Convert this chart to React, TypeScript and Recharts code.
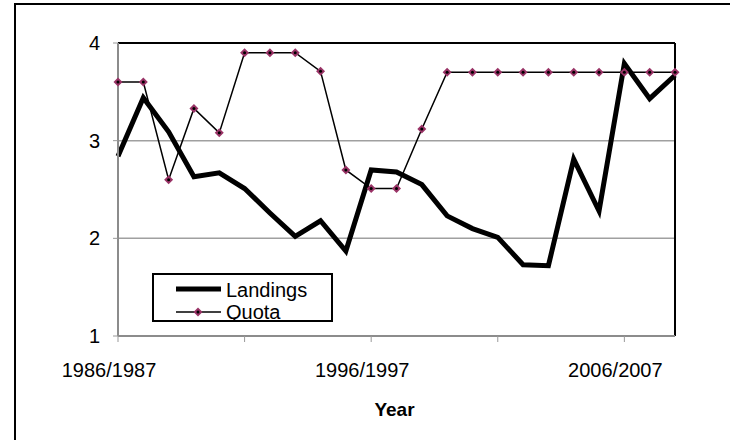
import React from 'react'
import {
  LineChart,
  Line,
  XAxis,
  YAxis,
  CartesianGrid,
  ReferenceLine,
  Legend,
} from 'recharts'

const seasons = [
  '1986/1987', '1987/1988', '1988/1989', '1989/1990', '1990/1991',
  '1991/1992', '1992/1993', '1993/1994', '1994/1995', '1995/1996',
  '1996/1997', '1997/1998', '1998/1999', '1999/2000', '2000/2001',
  '2001/2002', '2002/2003', '2003/2004', '2004/2005', '2005/2006',
  '2006/2007', '2007/2008', '2008/2009',
]

const landings = [
  2.84, 3.44, 3.09, 2.63, 2.67, 2.51, 2.26, 2.02, 2.18, 1.87,
  2.7, 2.68, 2.55, 2.23, 2.1, 2.01, 1.73, 1.72, 2.81, 2.28,
  3.79, 3.43, 3.67,
]

const quota = [
  3.6, 3.6, 2.6, 3.33, 3.08, 3.9, 3.9, 3.9, 3.71, 2.7,
  2.51, 2.51, 3.12, 3.7, 3.7, 3.7, 3.7, 3.7, 3.7, 3.7,
  3.7, 3.7, 3.7,
]

const yTicks = [1, 2, 3, 4]
const labeledSeasons = ['1986/1987', '1996/1997', '2006/2007']

const FONT = '"Liberation Sans", Arial, sans-serif'
const MARKER = '#993366'

const data = seasons.map((season, i) => ({
  season,
  landings: landings[i],
  quota: quota[i],
}))

function Diamond({ cx, cy, size = 4.5 }: { cx: number; cy: number; size?: number }) {
  return (
    <g>
      <polygon
        points={`${cx},${cy - size} ${cx + size},${cy} ${cx},${cy + size} ${cx - size},${cy}`}
        fill={MARKER}
      />
      <circle cx={cx} cy={cy} r={1.5} fill="#000" />
    </g>
  )
}

// quota markers: purple diamond with a black centre
function QuotaDot(props: any) {
  const { cx, cy, index } = props
  if (cx == null || cy == null) return null
  return <Diamond key={`q-${index}`} cx={cx} cy={cy} />
}

// only every tenth season gets a label, ticks every fifth
function SeasonTick(props: any) {
  const { x, y, payload } = props
  if (!labeledSeasons.includes(payload.value)) return null
  return (
    <text
      x={x - 9}
      y={y}
      dy="0.71em"
      textAnchor="middle"
      fontFamily={FONT}
      fontSize={20}
      fill="#000"
    >
      {payload.value}
    </text>
  )
}

function ChartLegend() {
  return (
    <svg width={181} height={49} style={{ display: 'block' }}>
      <rect x={1} y={1} width={179} height={47} fill="#fff" stroke="#000" strokeWidth={2} />
      <line x1={24} y1={16} x2={69} y2={16} stroke="#000" strokeWidth={5} />
      <text x={74} y={24} fontFamily={FONT} fontSize={20} fill="#000">
        Landings
      </text>
      <line x1={24} y1={39} x2={69} y2={39} stroke="#000" strokeWidth={1.5} />
      <Diamond cx={46} cy={39} />
      <text x={74} y={46} fontFamily={FONT} fontSize={20} fill="#000">
        Quota
      </text>
    </svg>
  )
}

export default function App() {
  return (
    <div
      style={{
        position: 'absolute',
        left: 0,
        top: 0,
        width: 730,
        height: 440,
        overflow: 'hidden',
        background: '#fff',
      }}
    >
      {/* outer frame, runs off the right and bottom edges */}
      <div
        style={{
          position: 'absolute',
          left: 14,
          top: 3,
          width: 800,
          height: 500,
          border: '2px solid #000',
        }}
      />
      <div style={{ position: 'absolute', left: 0, top: 0 }}>
        <LineChart
          width={730}
          height={440}
          data={data}
          margin={{ top: 43, right: 55, bottom: 14, left: 58 }}
        >
          <CartesianGrid vertical={false} stroke="#a0a0a0" strokeWidth={1.5} />
          <XAxis
            dataKey="season"
            interval={4}
            height={90}
            tickSize={6}
            tickMargin={21}
            tickLine={{ stroke: '#999' }}
            axisLine={{ stroke: '#8c8c8c', strokeWidth: 2 }}
            tick={<SeasonTick />}
            label={{
              value: 'Year',
              position: 'insideBottom',
              offset: 10,
              dx: -2,
              fontFamily: FONT,
              fontSize: 19,
              fontWeight: 'bold',
              fill: '#000',
            }}
          />
          <YAxis
            domain={[1, 4]}
            ticks={yTicks}
            width={60}
            tickSize={5}
            tickMargin={13}
            tickLine={{ stroke: '#999' }}
            axisLine={{ stroke: '#8c8c8c', strokeWidth: 2 }}
            tick={{ fontFamily: FONT, fontSize: 20, fill: '#000' }}
          />
          <ReferenceLine y={4} stroke="#000" strokeWidth={2} />
          <ReferenceLine x="2008/2009" stroke="#000" strokeWidth={2} />
          <Legend
            verticalAlign="middle"
            align="center"
            layout="horizontal"
            wrapperStyle={{ left: 152, top: 273, width: 181, height: 49 }}
            content={() => <ChartLegend />}
          />
          <Line
            dataKey="landings"
            name="Landings"
            stroke="#000"
            strokeWidth={5}
            dot={false}
            isAnimationActive={false}
          />
          <Line
            dataKey="quota"
            name="Quota"
            stroke="#000"
            strokeWidth={1.5}
            dot={QuotaDot}
            activeDot={false}
            isAnimationActive={false}
          />
        </LineChart>
      </div>
    </div>
  )
}
